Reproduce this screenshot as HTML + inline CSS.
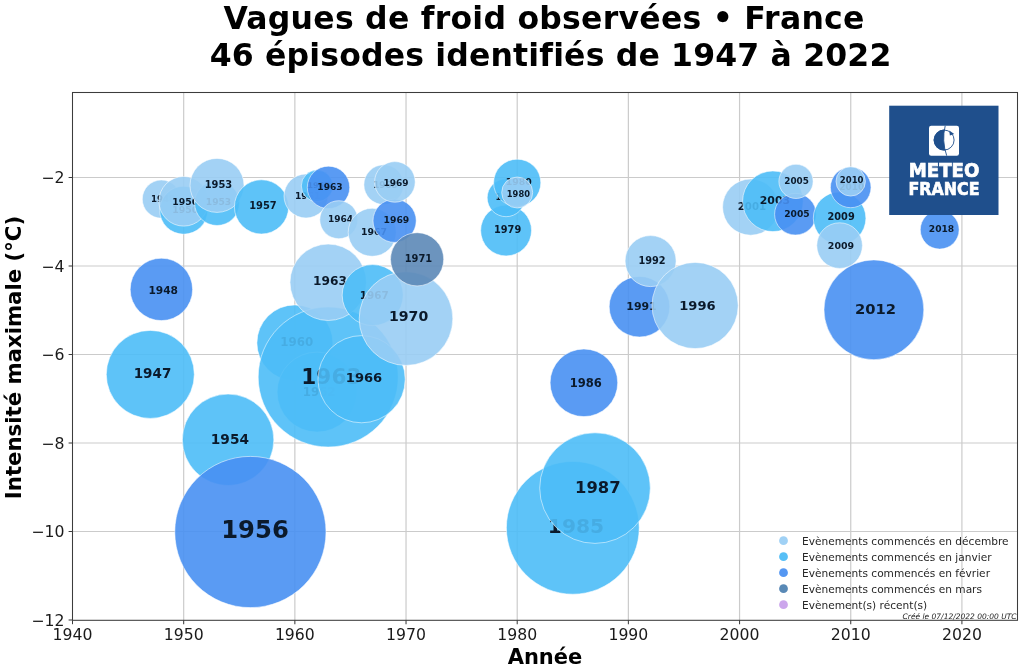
<!DOCTYPE html>
<html lang="fr"><head><meta charset="utf-8"><title>Vagues de froid observées • France</title>
<style>html,body{margin:0;padding:0;background:#fff}svg{display:block}text{font-family:"DejaVu Sans","Liberation Sans",sans-serif;font-variant-ligatures:none}.b{font-weight:bold;text-anchor:middle;dominant-baseline:central}</style></head><body>
<svg width="1024" height="670" viewBox="0 0 1024 670">
<rect width="1024" height="670" fill="#fff"/>
<text x="544" y="28.7" font-size="31.5" letter-spacing="0.25" font-weight="bold" text-anchor="middle" fill="#000">Vagues de froid observées • France</text>
<text x="550.6" y="65.8" font-size="31.5" letter-spacing="0.17" font-weight="bold" text-anchor="middle" fill="#000">46 épisodes identifiés de 1947 à 2022</text>
<g stroke="#cbcbcb" stroke-width="1.2">
<line x1="183.68" y1="92.5" x2="183.68" y2="620.3"/>
<line x1="294.85" y1="92.5" x2="294.85" y2="620.3"/>
<line x1="406.03" y1="92.5" x2="406.03" y2="620.3"/>
<line x1="517.21" y1="92.5" x2="517.21" y2="620.3"/>
<line x1="628.38" y1="92.5" x2="628.38" y2="620.3"/>
<line x1="739.56" y1="92.5" x2="739.56" y2="620.3"/>
<line x1="850.74" y1="92.5" x2="850.74" y2="620.3"/>
<line x1="961.91" y1="92.5" x2="961.91" y2="620.3"/>
<line x1="72.5" y1="531.50" x2="1017.5" y2="531.50"/>
<line x1="72.5" y1="443.00" x2="1017.5" y2="443.00"/>
<line x1="72.5" y1="354.50" x2="1017.5" y2="354.50"/>
<line x1="72.5" y1="266.00" x2="1017.5" y2="266.00"/>
<line x1="72.5" y1="177.50" x2="1017.5" y2="177.50"/>
</g>
<defs><clipPath id="ax"><rect x="72.5" y="92.5" width="945.0" height="527.8"/></clipPath></defs>
<g clip-path="url(#ax)">
<circle cx="150.3" cy="374.4" r="44.0" fill="#4dbdf7" fill-opacity="0.9" stroke="#fff" stroke-opacity="0.6" stroke-width="0.9"/>
<text class="b" x="152.5" y="373.0" font-size="13.5" fill="#0b1a2b">1947</text>
<circle cx="161.4" cy="289.4" r="31.2" fill="#4890f2" fill-opacity="0.9" stroke="#fff" stroke-opacity="0.6" stroke-width="0.9"/>
<text class="b" x="163.2" y="290.0" font-size="10.65" fill="#0b1a2b">1948</text>
<circle cx="161.4" cy="199.1" r="19.1" fill="#99cdf4" fill-opacity="0.9" stroke="#fff" stroke-opacity="0.6" stroke-width="0.9"/>
<text class="b" x="162.9" y="198.8" font-size="8.63" fill="#0b1a2b">1948</text>
<circle cx="183.7" cy="210.2" r="24.0" fill="#4dbdf7" fill-opacity="0.9" stroke="#fff" stroke-opacity="0.6" stroke-width="0.9"/>
<text class="b" x="185.2" y="209.2" font-size="9.36" fill="#0b1a2b">1950</text>
<circle cx="183.7" cy="201.3" r="24.8" fill="#99cdf4" fill-opacity="0.9" stroke="#fff" stroke-opacity="0.6" stroke-width="0.9"/>
<text class="b" x="185.2" y="201.1" font-size="9.36" fill="#0b1a2b">1950</text>
<circle cx="217.0" cy="203.1" r="22.4" fill="#4dbdf7" fill-opacity="0.9" stroke="#fff" stroke-opacity="0.6" stroke-width="0.9"/>
<text class="b" x="218.5" y="201.5" font-size="9.15" fill="#0b1a2b">1953</text>
<circle cx="217.0" cy="185.4" r="27.0" fill="#99cdf4" fill-opacity="0.9" stroke="#fff" stroke-opacity="0.6" stroke-width="0.9"/>
<text class="b" x="218.5" y="184.6" font-size="9.88" fill="#0b1a2b">1953</text>
<circle cx="228.1" cy="439.8" r="45.7" fill="#4dbdf7" fill-opacity="0.9" stroke="#fff" stroke-opacity="0.6" stroke-width="0.9"/>
<text class="b" x="229.9" y="438.7" font-size="13.7" fill="#0b1a2b">1954</text>
<circle cx="250.4" cy="532.0" r="75.6" fill="#4890f2" fill-opacity="0.9" stroke="#fff" stroke-opacity="0.6" stroke-width="0.9"/>
<text class="b" x="255.0" y="529.9" font-size="24.3" fill="#0b1a2b">1956</text>
<circle cx="261.5" cy="206.9" r="27.1" fill="#4dbdf7" fill-opacity="0.9" stroke="#fff" stroke-opacity="0.6" stroke-width="0.9"/>
<text class="b" x="262.9" y="205.7" font-size="9.9" fill="#0b1a2b">1957</text>
<circle cx="294.9" cy="342.9" r="38.0" fill="#4dbdf7" fill-opacity="0.9" stroke="#fff" stroke-opacity="0.6" stroke-width="0.9"/>
<text class="b" x="296.7" y="342.4" font-size="11.88" fill="#0b1a2b">1960</text>
<circle cx="306.0" cy="196.0" r="22.0" fill="#99cdf4" fill-opacity="0.9" stroke="#fff" stroke-opacity="0.6" stroke-width="0.9"/>
<text class="b" x="307.6" y="195.5" font-size="9.15" fill="#0b1a2b">1961</text>
<circle cx="317.1" cy="185.9" r="15.8" fill="#4dbdf7" fill-opacity="0.9" stroke="#fff" stroke-opacity="0.6" stroke-width="0.9"/>
<text class="b" x="318.6" y="185.4" font-size="7.9" fill="#0b1a2b">1962</text>
<circle cx="317.1" cy="392.1" r="40.0" fill="#4dbdf7" fill-opacity="0.9" stroke="#fff" stroke-opacity="0.6" stroke-width="0.9"/>
<text class="b" x="319.1" y="391.6" font-size="11.77" fill="#0b1a2b">1962</text>
<circle cx="328.2" cy="377.0" r="70.0" fill="#4dbdf7" fill-opacity="0.9" stroke="#fff" stroke-opacity="0.6" stroke-width="0.9"/>
<text class="b" x="331.4" y="376.0" font-size="21.6" fill="#0b1a2b">1963</text>
<circle cx="328.5" cy="187.4" r="21.2" fill="#4890f2" fill-opacity="0.9" stroke="#fff" stroke-opacity="0.6" stroke-width="0.9"/>
<text class="b" x="330.0" y="186.8" font-size="9.1" fill="#0b1a2b">1963</text>
<circle cx="328.2" cy="282.3" r="38.2" fill="#99cdf4" fill-opacity="0.9" stroke="#fff" stroke-opacity="0.6" stroke-width="0.9"/>
<text class="b" x="330.0" y="281.1" font-size="12.18" fill="#0b1a2b">1963</text>
<circle cx="338.8" cy="219.7" r="19.0" fill="#99cdf4" fill-opacity="0.9" stroke="#fff" stroke-opacity="0.6" stroke-width="0.9"/>
<text class="b" x="340.5" y="219.2" font-size="9.05" fill="#0b1a2b">1964</text>
<circle cx="361.6" cy="379.2" r="43.6" fill="#4dbdf7" fill-opacity="0.9" stroke="#fff" stroke-opacity="0.6" stroke-width="0.9"/>
<text class="b" x="364.0" y="377.7" font-size="13.1" fill="#0b1a2b">1966</text>
<circle cx="372.7" cy="295.1" r="30.5" fill="#4dbdf7" fill-opacity="0.9" stroke="#fff" stroke-opacity="0.6" stroke-width="0.9"/>
<text class="b" x="374.2" y="294.6" font-size="10.4" fill="#0b1a2b">1967</text>
<circle cx="372.2" cy="232.3" r="24.0" fill="#99cdf4" fill-opacity="0.9" stroke="#fff" stroke-opacity="0.6" stroke-width="0.9"/>
<text class="b" x="374.0" y="231.5" font-size="9.36" fill="#0b1a2b">1967</text>
<circle cx="383.8" cy="184.7" r="19.9" fill="#99cdf4" fill-opacity="0.9" stroke="#fff" stroke-opacity="0.6" stroke-width="0.9"/>
<text class="b" x="385.3" y="185.0" font-size="8.74" fill="#0b1a2b">1968</text>
<circle cx="394.6" cy="220.8" r="21.6" fill="#4890f2" fill-opacity="0.9" stroke="#fff" stroke-opacity="0.6" stroke-width="0.9"/>
<text class="b" x="396.4" y="219.8" font-size="9.26" fill="#0b1a2b">1969</text>
<circle cx="394.9" cy="181.9" r="20.3" fill="#99cdf4" fill-opacity="0.9" stroke="#fff" stroke-opacity="0.6" stroke-width="0.9"/>
<text class="b" x="396.1" y="182.9" font-size="9.0" fill="#0b1a2b">1969</text>
<circle cx="406.0" cy="318.6" r="46.8" fill="#99cdf4" fill-opacity="0.9" stroke="#fff" stroke-opacity="0.6" stroke-width="0.9"/>
<text class="b" x="408.6" y="315.8" font-size="14.11" fill="#0b1a2b">1970</text>
<circle cx="417.1" cy="259.3" r="26.6" fill="#5c88b7" fill-opacity="0.9" stroke="#fff" stroke-opacity="0.6" stroke-width="0.9"/>
<text class="b" x="418.4" y="258.8" font-size="9.9" fill="#0b1a2b">1971</text>
<circle cx="506.1" cy="230.5" r="25.4" fill="#4dbdf7" fill-opacity="0.9" stroke="#fff" stroke-opacity="0.6" stroke-width="0.9"/>
<text class="b" x="507.6" y="229.5" font-size="9.78" fill="#0b1a2b">1979</text>
<circle cx="506.1" cy="197.8" r="18.9" fill="#4dbdf7" fill-opacity="0.9" stroke="#fff" stroke-opacity="0.6" stroke-width="0.9"/>
<text class="b" x="507.6" y="197.3" font-size="8.63" fill="#0b1a2b">1979</text>
<circle cx="517.2" cy="182.8" r="23.6" fill="#4dbdf7" fill-opacity="0.9" stroke="#fff" stroke-opacity="0.6" stroke-width="0.9"/>
<text class="b" x="518.7" y="181.6" font-size="9.36" fill="#0b1a2b">1980</text>
<circle cx="517.2" cy="192.5" r="15.5" fill="#99cdf4" fill-opacity="0.9" stroke="#fff" stroke-opacity="0.6" stroke-width="0.9"/>
<text class="b" x="518.4" y="193.7" font-size="8.32" fill="#0b1a2b">1980</text>
<circle cx="572.8" cy="527.8" r="66.4" fill="#4dbdf7" fill-opacity="0.9" stroke="#fff" stroke-opacity="0.6" stroke-width="0.9"/>
<text class="b" x="576.0" y="525.5" font-size="20.3" fill="#0b1a2b">1985</text>
<circle cx="583.9" cy="382.8" r="33.8" fill="#4890f2" fill-opacity="0.9" stroke="#fff" stroke-opacity="0.6" stroke-width="0.9"/>
<text class="b" x="585.7" y="382.8" font-size="11.54" fill="#0b1a2b">1986</text>
<circle cx="595.0" cy="488.1" r="55.3" fill="#4dbdf7" fill-opacity="0.9" stroke="#fff" stroke-opacity="0.6" stroke-width="0.9"/>
<text class="b" x="597.8" y="487.3" font-size="16.35" fill="#0b1a2b">1987</text>
<circle cx="639.5" cy="306.7" r="30.3" fill="#4890f2" fill-opacity="0.9" stroke="#fff" stroke-opacity="0.6" stroke-width="0.9"/>
<text class="b" x="641.5" y="306.7" font-size="10.92" fill="#0b1a2b">1991</text>
<circle cx="650.6" cy="261.1" r="25.5" fill="#99cdf4" fill-opacity="0.9" stroke="#fff" stroke-opacity="0.6" stroke-width="0.9"/>
<text class="b" x="652.0" y="260.2" font-size="9.78" fill="#0b1a2b">1992</text>
<circle cx="695.1" cy="305.5" r="43.1" fill="#99cdf4" fill-opacity="0.9" stroke="#fff" stroke-opacity="0.6" stroke-width="0.9"/>
<text class="b" x="697.4" y="305.3" font-size="13.1" fill="#0b1a2b">1996</text>
<circle cx="750.7" cy="207.1" r="28.1" fill="#99cdf4" fill-opacity="0.9" stroke="#fff" stroke-opacity="0.6" stroke-width="0.9"/>
<text class="b" x="751.9" y="206.5" font-size="10.19" fill="#0b1a2b">2001</text>
<circle cx="772.9" cy="201.3" r="30.3" fill="#4dbdf7" fill-opacity="0.9" stroke="#fff" stroke-opacity="0.6" stroke-width="0.9"/>
<text class="b" x="774.9" y="200.9" font-size="10.92" fill="#0b1a2b">2003</text>
<circle cx="795.4" cy="214.2" r="20.8" fill="#4890f2" fill-opacity="0.9" stroke="#fff" stroke-opacity="0.6" stroke-width="0.9"/>
<text class="b" x="796.9" y="213.5" font-size="9.15" fill="#0b1a2b">2005</text>
<circle cx="796.0" cy="181.4" r="17.1" fill="#99cdf4" fill-opacity="0.9" stroke="#fff" stroke-opacity="0.6" stroke-width="0.9"/>
<text class="b" x="796.6" y="181.1" font-size="8.84" fill="#0b1a2b">2005</text>
<circle cx="839.6" cy="218.2" r="26.3" fill="#4dbdf7" fill-opacity="0.9" stroke="#fff" stroke-opacity="0.6" stroke-width="0.9"/>
<text class="b" x="841.1" y="216.4" font-size="9.78" fill="#0b1a2b">2009</text>
<circle cx="839.6" cy="245.6" r="22.8" fill="#99cdf4" fill-opacity="0.9" stroke="#fff" stroke-opacity="0.6" stroke-width="0.9"/>
<text class="b" x="841.0" y="245.0" font-size="9.46" fill="#0b1a2b">2009</text>
<circle cx="850.7" cy="187.4" r="20.3" fill="#4890f2" fill-opacity="0.9" stroke="#fff" stroke-opacity="0.6" stroke-width="0.9"/>
<text class="b" x="851.7" y="187.4" font-size="8.94" fill="#0b1a2b">2010</text>
<circle cx="850.7" cy="181.4" r="14.7" fill="#99cdf4" fill-opacity="0.9" stroke="#fff" stroke-opacity="0.6" stroke-width="0.9"/>
<text class="b" x="851.7" y="180.4" font-size="8.53" fill="#0b1a2b">2010</text>
<circle cx="873.9" cy="309.8" r="49.9" fill="#4890f2" fill-opacity="0.9" stroke="#fff" stroke-opacity="0.6" stroke-width="0.9"/>
<text class="b" x="875.5" y="308.9" font-size="14.75" fill="#0b1a2b">2012</text>
<circle cx="939.7" cy="229.7" r="19.4" fill="#4890f2" fill-opacity="0.9" stroke="#fff" stroke-opacity="0.6" stroke-width="0.9"/>
<text class="b" x="941.5" y="229.0" font-size="9.15" fill="#0b1a2b">2018</text>
</g>
<circle cx="783.5" cy="540.7" r="4.4" fill="#96ccf4" fill-opacity="0.9"/>
<text x="802" y="544.7" font-size="10.6" fill="#262626">Evènements commencés en décembre</text>
<circle cx="783.5" cy="556.7" r="4.4" fill="#45b8f5" fill-opacity="0.9"/>
<text x="802" y="560.7" font-size="10.6" fill="#262626">Evènements commencés en janvier</text>
<circle cx="783.5" cy="572.7" r="4.4" fill="#438cf1" fill-opacity="0.9"/>
<text x="802" y="576.7" font-size="10.6" fill="#262626">Evènements commencés en février</text>
<circle cx="783.5" cy="588.7" r="4.4" fill="#477cae" fill-opacity="0.9"/>
<text x="802" y="592.7" font-size="10.6" fill="#262626">Evènements commencés en mars</text>
<circle cx="783.5" cy="604.7" r="4.4" fill="#c79cea" fill-opacity="0.9"/>
<text x="802" y="608.7" font-size="10.6" fill="#262626">Evènement(s) récent(s)</text>
<text x="1016.5" y="619.0" font-size="7.5" font-style="italic" text-anchor="end" fill="#222">Créé le 07/12/2022 00:00 UTC</text>
<g>
<rect x="889.2" y="105.7" width="109.3" height="109.3" fill="#1f4f8c"/>
<rect x="929.0" y="125.8" width="30" height="29.9" rx="2.2" fill="#fff"/>
<clipPath id="lh"><path d="M920 120 L945.2 125.8 Q941.5 140.7 946.7 155.7 L920 160 Z"/></clipPath>
<circle cx="944.1" cy="140.05" r="10.45" fill="#1f4f8c" clip-path="url(#lh)"/>
<circle cx="944.1" cy="140.05" r="10.0" fill="none" stroke="#1f4f8c" stroke-width="0.9"/>
<path d="M945.2 125.8 Q941.5 140.7 946.7 155.7" fill="none" stroke="#1f4f8c" stroke-width="0.9"/>
<path d="M949.3 130.6 L954.2 133.9 L949.9 135.6 Z" fill="#1f4f8c"/>
<text x="944.05" y="177" font-family="'Liberation Sans',sans-serif" font-size="19.1" font-weight="bold" text-anchor="middle" fill="#fff" stroke="#fff" stroke-width="0.7" textLength="70.8" lengthAdjust="spacingAndGlyphs">METEO</text>
<text x="944.05" y="195" font-family="'Liberation Sans',sans-serif" font-size="18" font-weight="bold" text-anchor="middle" fill="#fff" stroke="#fff" stroke-width="0.7" textLength="71.0" lengthAdjust="spacingAndGlyphs">FRANCE</text>
</g>
<rect x="72.5" y="92.5" width="945.0" height="527.8" fill="none" stroke="#3c3c3c" stroke-width="1.05"/>
<g stroke="#3c3c3c" stroke-width="1.05">
<line x1="72.50" y1="620.3" x2="72.50" y2="624.1999999999999"/>
<line x1="183.68" y1="620.3" x2="183.68" y2="624.1999999999999"/>
<line x1="294.85" y1="620.3" x2="294.85" y2="624.1999999999999"/>
<line x1="406.03" y1="620.3" x2="406.03" y2="624.1999999999999"/>
<line x1="517.21" y1="620.3" x2="517.21" y2="624.1999999999999"/>
<line x1="628.38" y1="620.3" x2="628.38" y2="624.1999999999999"/>
<line x1="739.56" y1="620.3" x2="739.56" y2="624.1999999999999"/>
<line x1="850.74" y1="620.3" x2="850.74" y2="624.1999999999999"/>
<line x1="961.91" y1="620.3" x2="961.91" y2="624.1999999999999"/>
<line x1="68.6" y1="620.00" x2="72.5" y2="620.00"/>
<line x1="68.6" y1="531.50" x2="72.5" y2="531.50"/>
<line x1="68.6" y1="443.00" x2="72.5" y2="443.00"/>
<line x1="68.6" y1="354.50" x2="72.5" y2="354.50"/>
<line x1="68.6" y1="266.00" x2="72.5" y2="266.00"/>
<line x1="68.6" y1="177.50" x2="72.5" y2="177.50"/>
</g>
<g font-size="15.7" fill="#1a1a1a">
<text x="72.50" y="640.4" text-anchor="middle">1940</text>
<text x="183.68" y="640.4" text-anchor="middle">1950</text>
<text x="294.85" y="640.4" text-anchor="middle">1960</text>
<text x="406.03" y="640.4" text-anchor="middle">1970</text>
<text x="517.21" y="640.4" text-anchor="middle">1980</text>
<text x="628.38" y="640.4" text-anchor="middle">1990</text>
<text x="739.56" y="640.4" text-anchor="middle">2000</text>
<text x="850.74" y="640.4" text-anchor="middle">2010</text>
<text x="961.91" y="640.4" text-anchor="middle">2020</text>
<text x="64.4" y="625.70" text-anchor="end">−12</text>
<text x="64.4" y="537.20" text-anchor="end">−10</text>
<text x="64.4" y="448.70" text-anchor="end">−8</text>
<text x="64.4" y="360.20" text-anchor="end">−6</text>
<text x="64.4" y="271.70" text-anchor="end">−4</text>
<text x="64.4" y="183.20" text-anchor="end">−2</text>
</g>
<text x="545" y="664" font-size="21.0" font-weight="bold" text-anchor="middle" fill="#000">Année</text>
<text transform="translate(21.0 357.5) rotate(-90)" font-size="21.25" font-weight="bold" text-anchor="middle" fill="#000">Intensité maximale (°C)</text>
</svg></body></html>
